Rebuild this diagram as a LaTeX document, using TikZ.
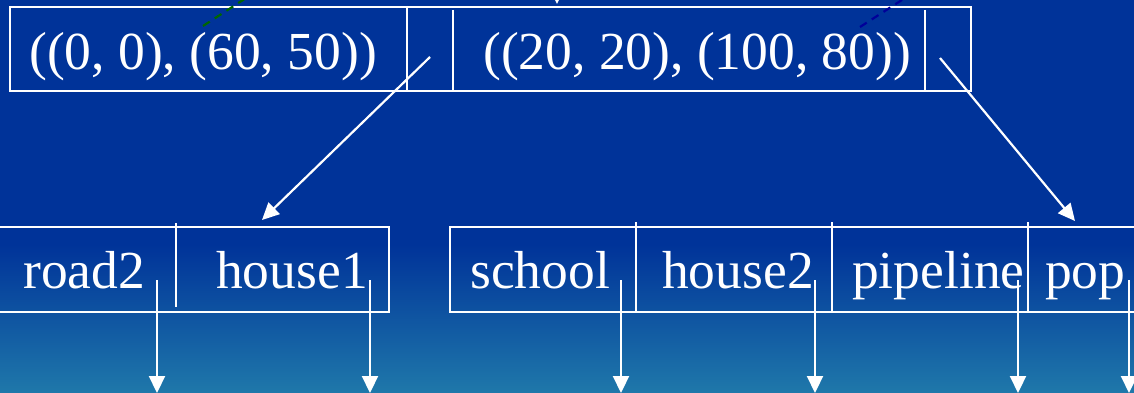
\documentclass[tikz,border=0pt]{standalone}
\usepackage{fontspec}
\setmainfont{Liberation Serif}
\usetikzlibrary{arrows.meta}
\definecolor{bgtop}{HTML}{003399}
\definecolor{bgbot}{HTML}{1F78AA}
\definecolor{dgreen}{HTML}{006600}
\definecolor{dblue}{HTML}{000099}
\tikzset{
  cell/.style={draw=white, line width=2.2pt, rectangle, inner sep=0pt, anchor=north west},
  divider/.style={draw=white, line width=2.2pt},
  lbl/.style={text=white, anchor=base west, inner sep=0pt, font=\fontsize{53.5}{60}\selectfont},
  ptr/.style={draw=white, line width=2.2pt, -{Triangle[length=17pt,width=16pt]}},
  dashlink/.style={line width=2.2pt, dash pattern=on 8pt off 6pt},
}
\begin{document}
\begin{tikzpicture}[x=1pt,y=-1pt]
\useasboundingbox (0,0) rectangle (1134,393);
% background
\fill[bgtop] (0,0) rectangle (1134,245);
\shade[top color=bgtop, bottom color=bgbot] (0,244.5) rectangle (1134,393);
% top node
\node[cell, minimum width=961pt, minimum height=84pt] (top) at (9,6) {};
\draw[divider] (407,6) -- (407,90);
\draw[divider] (453,10) -- (453,92);
\draw[divider] (925,10) -- (925,90);
\node[lbl] (r1) at (29,70) {((0, 0), (60, 50))};
\node[lbl] (r2) at (483,70) {((20, 20), (100, 80))};
% leaf boxes
\node[cell, minimum width=392pt, minimum height=85pt] (leafA) at (-4,226) {};
\draw[divider] (176,223) -- (176,307);
\node[cell, minimum width=700pt, minimum height=85pt] (leafB) at (449,226) {};
\draw[divider] (636,222) -- (636,311);
\draw[divider] (832,222) -- (832,311);
\draw[divider] (1028,222) -- (1028,311);
\node[lbl] (road2) at (23,288) {road2};
\node[lbl] (house1) at (216,288) {house1};
\node[lbl] (school) at (470,288) {school};
\node[lbl] (house2) at (662,288) {house2};
\node[lbl] (pipeline) at (852,288) {pipeline};
\node[lbl] (pop) at (1045,288) {pop};
% pointers from top node
\coordinate (pA) at (430,57);
\coordinate (tA) at (262,220);
\coordinate (pB) at (940,58);
\coordinate (tB) at (1075,221);
\draw[ptr] (pA) -- (tA);
\draw[ptr] (pB) -- (tB);
% incoming links (cut off)
\coordinate (gS) at (203,26);
\coordinate (gE) at (246,-2);
\draw[dashlink, dgreen] (gS) -- (gE);
\coordinate (bS) at (860,27);
\coordinate (bE) at (905,-2);
\draw[dashlink, dblue] (bS) -- (bE);
\coordinate (inS) at (557,-20);
\coordinate (inE) at (557,4);
\draw[ptr] (inS) -- (inE);
% pointers from leaves
\foreach \x/\n in {157/a1,370/a2,621/a3,815/a4,1018/a5,1129/a6}{
  \coordinate (s\n) at (\x,280);
  \coordinate (e\n) at (\x,393);
  \draw[ptr] (s\n) -- (e\n);
}
\end{tikzpicture}
\end{document}
